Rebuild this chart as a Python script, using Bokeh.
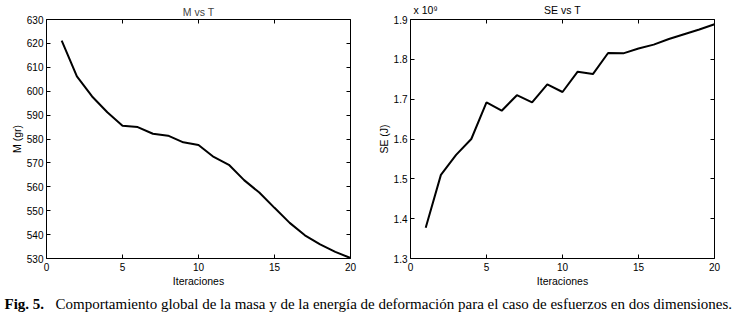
from bokeh.plotting import figure
from bokeh.models import Range1d, LinearAxis, FixedTicker
from bokeh.layouts import column, row
from bokeh.embed import file_html
from bokeh.resources import INLINE
from bokeh.core.properties import value

iteraciones = list(range(1, 21))
masa_gr = [621.2, 606.2, 597.8, 591.2, 585.5, 585.0, 582.2, 581.4, 578.6, 577.5,
           572.5, 569.2, 562.8, 557.6, 551.2, 544.9, 539.7, 535.9, 532.8, 530.2]
se_e9 = [1.377, 1.510, 1.560, 1.600, 1.692, 1.671, 1.710, 1.692, 1.737, 1.718,
         1.769, 1.763, 1.816, 1.815, 1.827, 1.837, 1.851, 1.863, 1.875, 1.888]
x_ticks = [0, 5, 10, 15, 20]
m_ticks = [530, 540, 550, 560, 570, 580, 590, 600, 610, 620, 630]
se_ticks = [1.3, 1.4, 1.5, 1.6, 1.7, 1.8, 1.9]
se_multiplier = "x 10\u2079"
caption_bold = "Fig. 5."
caption_text = ("Comportamiento global de la masa y de la energía de deformación "
                "para el caso de esfuerzos en dos dimensiones.")

FONT = "Liberation Sans"


def style_axis(ax, ticks, labels=True, standoff=3, tick_in=4):
    ax.ticker = FixedTicker(ticks=ticks)
    ax.axis_line_color = None
    ax.major_tick_in = tick_in
    ax.major_tick_out = 0
    ax.minor_tick_in = 0
    ax.minor_tick_out = 0
    ax.major_tick_line_color = "black"
    ax.major_label_text_font = FONT
    ax.major_label_text_font_size = "10px" if labels else "0px"
    ax.major_label_text_color = "black"
    ax.major_label_standoff = standoff if labels else 0
    ax.axis_label_text_font = FONT
    ax.axis_label_text_font_size = "10.5px"
    ax.axis_label_text_font_style = "normal"
    ax.axis_label_text_color = "black"
    ax.axis_label_standoff = 1


def make_plot(title, ys, yticks, yr, ylabel, left, right):
    p = figure(width=371, height=290, output_backend="svg", toolbar_location=None,
               x_range=Range1d(0, 20), y_range=Range1d(*yr),
               min_border_left=left, min_border_right=right,
               min_border_top=19, min_border_bottom=32,
               x_axis_label="Iteraciones", y_axis_label=ylabel, title=title)
    if title is not None:
        p.title.align = "center"
        p.title.text_font = FONT
        p.title.text_font_size = "10.5px"
        p.title.text_font_style = "normal"
        p.title.offset = 0
        p.title.standoff = 4
    p.xgrid.visible = False
    p.ygrid.visible = False
    p.outline_line_color = "black"
    p.outline_line_width = 1
    p.background_fill_color = "white"
    p.border_fill_color = "white"
    style_axis(p.xaxis[0], x_ticks, standoff=4)
    style_axis(p.yaxis[0], yticks)
    top = LinearAxis()
    style_axis(top, x_ticks, labels=False)
    p.add_layout(top, "above")
    rt = LinearAxis()
    style_axis(rt, yticks, labels=False)
    p.add_layout(rt, "right")
    p.line(iteraciones, ys, line_color="black", line_width=2)
    return p


p1 = make_plot("M vs T", masa_gr, m_ticks, (530, 630), "M (gr)", 46, 21)
p2 = make_plot(None, se_e9, se_ticks, (1.3, 1.9), "SE (J)", 39, 28)
p2.yaxis[0].formatter.use_scientific = False

# top text row of the right panel: multiplier at the left, title in the centre
head = LinearAxis()
style_axis(head, [1.0, 10], standoff=4, tick_in=0)
head.major_label_overrides = {1.0: se_multiplier, 10: "SE vs T"}
head.major_label_text_font_size = "10.5px"
p2.add_layout(head, "above")

p3 = figure(width=742, height=22, output_backend="svg", toolbar_location=None,
            x_range=Range1d(0, 742), y_range=Range1d(0, 22),
            x_axis_location=None, y_axis_location=None, title=None,
            min_border=0)
p3.grid.visible = False
p3.outline_line_color = None
p3.text(x=[4], y=[9], text=[caption_bold], text_font=value("Liberation Serif"),
        text_font_size="15px", text_font_style="bold", text_color="black",
        text_baseline="alphabetic")
p3.text(x=[55], y=[9], text=[caption_text],
        text_font=value("Liberation Serif"), text_font_size="15px", text_color="black",
        text_baseline="alphabetic")

layout = column(row(p1, p2, spacing=0), p3, spacing=0)
open("out.html", "w").write(file_html(layout, INLINE))
